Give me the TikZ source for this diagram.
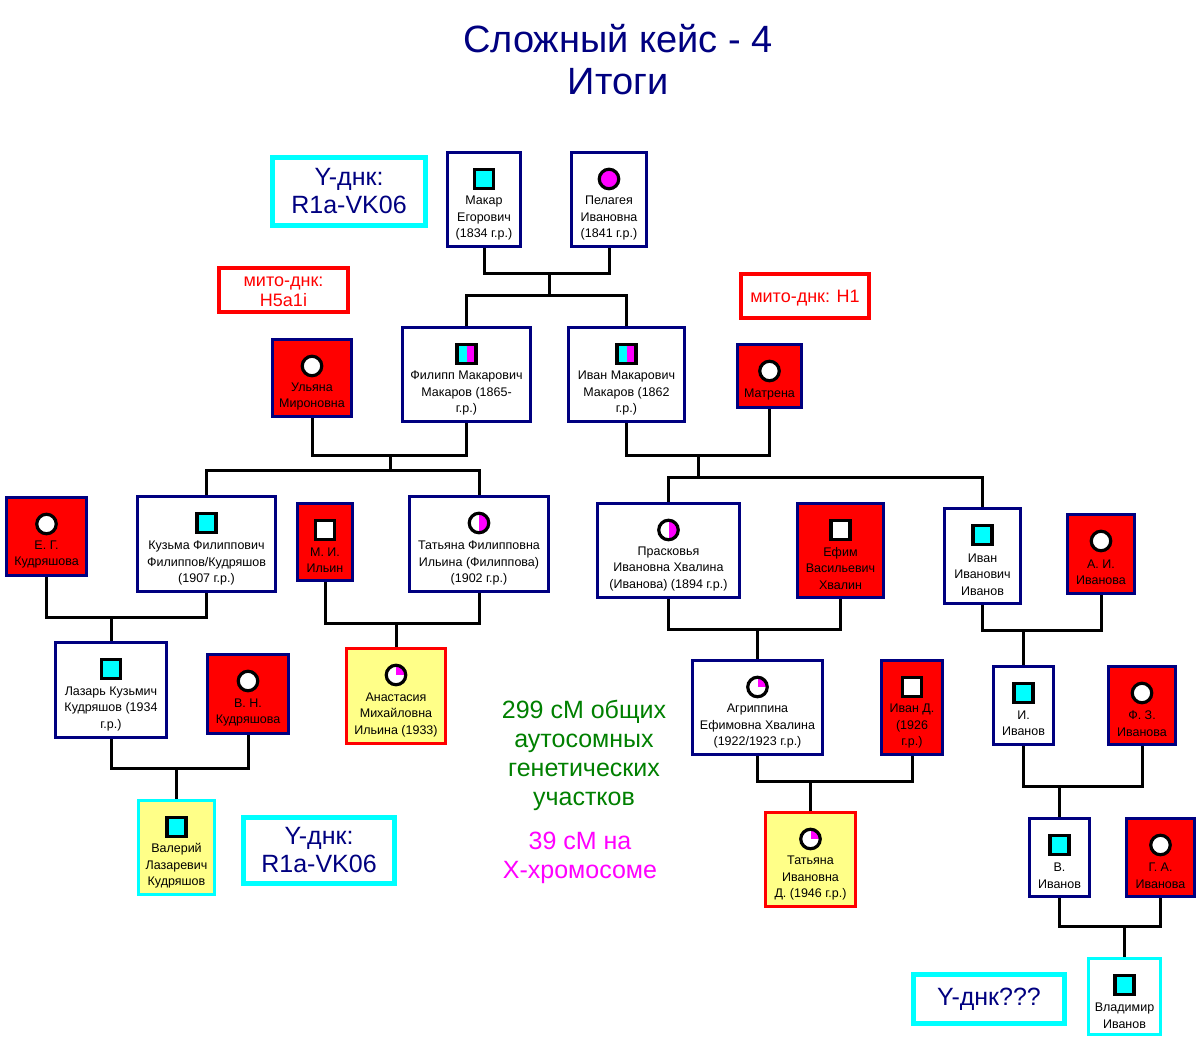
\documentclass[tikz,border=0pt]{standalone}
\usepackage{fontspec}
\setmainfont{Liberation Sans}
\usetikzlibrary{backgrounds}
\definecolor{navyb}{RGB}{0,0,128}
\definecolor{yel}{RGB}{255,255,136}
\definecolor{grn}{RGB}{0,128,0}
\definecolor{mag}{RGB}{255,0,255}
\definecolor{cyn}{RGB}{0,255,255}
\definecolor{rd}{RGB}{255,0,0}
\newcommand\person[9]{%
  \node[#6, minimum width={(#4-#2-3)*1pt}, minimum height={(#5-#3-3)*1pt}] (#1) at ({(#2+#4)/2},{(#3+#5)/2}) {};
  \node[#7] (#1s) at ({(#2+#4)/2},{#3+28}) {};
  \node[ptext] (#1t) at ({(#2+#4)/2},{#8+1.5}) {#9};
}
\begin{document}
\begin{tikzpicture}[x=1pt,y=-1pt,
  pbase/.style={rectangle, line width=3pt, inner sep=0pt},
  wperson/.style={pbase, draw=navyb, fill=white},
  rperson/.style={pbase, draw=navyb, fill=rd},
  yperson/.style={pbase, draw=rd, fill=yel},
  ycperson/.style={pbase, draw=cyn, fill=yel},
  cperson/.style={pbase, draw=cyn, fill=white},
  ptext/.style={font=\fontsize{12.5}{16.5}\selectfont, align=center, inner sep=0pt, text=black},
  sq/.style={rectangle, draw=black, line width=3.2pt, minimum size=19pt, inner sep=0pt},
  cyansq/.style={sq, fill=cyn},
  whitesq/.style={sq, fill=white},
  halfsq/.style={sq, fill=cyn, path picture={\fill[mag] (path picture bounding box.south) rectangle (path picture bounding box.north east);}},
  circ/.style={circle, draw=black, line width=3.2pt, minimum size=19.5pt, inner sep=0pt},
  whitecirc/.style={circ, fill=white},
  magcirc/.style={circ, fill=mag},
  halfcirc/.style={circ, fill=white, path picture={\fill[mag] (path picture bounding box.south) rectangle (path picture bounding box.north east);}},
  quartcirc/.style={circ, fill=white, path picture={\fill[mag] (path picture bounding box.center) rectangle (path picture bounding box.north east);}},
  lbl/.style={rectangle, draw=cyn, line width=5pt, fill=white, font=\fontsize{25}{28}\selectfont, text=navyb, align=center, inner sep=0pt},
  mito/.style={rectangle, draw=rd, line width=4pt, fill=white, font=\fontsize{18}{20}\selectfont, text=rd, align=center, inner sep=0pt},
  conn/.style={draw=black, line width=3pt}
]
\useasboundingbox (0,0) rectangle (1200,1042);

\node[font=\fontsize{38}{42}\selectfont, text=navyb, align=center, inner sep=0pt] (title) at (618,60) {Сложный кейс - 4\\Итоги};

\node[lbl, minimum width=153pt, minimum height=68pt] (ydnk1) at (349,191.5) {Y-днк:\\R1a-VK06};
\node[lbl, minimum width=151pt, minimum height=66pt] (ydnk2) at (319,850.5) {Y-днк:\\R1a-VK06};
\node[lbl, minimum width=151pt, minimum height=49pt] (ydnk3) at (989,999) {Y-днк???};
\node[mito, minimum width=129pt, minimum height=44pt] (mito1) at (283.5,290) {};
\node[font=\fontsize{18}{20}\selectfont, text=rd, align=center, inner sep=0pt] (mito1t) at (283.5,292) {мито-днк:\\H5a1i};
\node[mito, minimum width=128pt, minimum height=44pt] (mito2) at (805,296) {};
\node[font=\fontsize{18}{20}\selectfont, text=rd, inner sep=0pt] (mito2t) at (805,298) {мито-днк: H1};

\node[font=\fontsize{25}{29}\selectfont, text=grn, align=center, inner sep=0pt] (auto) at (584,755.5) {299 сМ общих\\аутосомных\\генетических\\участков};
\node[font=\fontsize{25}{29}\selectfont, text=mag, align=center, inner sep=0pt] (xchr) at (580,857.5) {39 сМ на\\Х-хромосоме};

\person{makar}{446}{151}{522}{248}{wperson}{cyansq}{216.5}{Макар\\Егорович\\(1834 г.р.)}
\person{pelageya}{570}{151}{648}{248}{wperson}{magcirc}{216.5}{Пелагея\\Ивановна\\(1841 г.р.)}
\person{ulyana}{271}{338}{353}{418}{rperson}{whitecirc}{395}{Ульяна\\Мироновна}
\person{filipp}{401}{326}{532}{423}{wperson}{halfsq}{391.5}{Филипп Макарович\\Макаров (1865-\\г.р.)}
\person{ivanm}{567}{326}{686}{423}{wperson}{halfsq}{391.5}{Иван Макарович\\Макаров (1862\\г.р.)}
\person{matrena}{736}{343}{803}{409}{rperson}{whitecirc}{393}{Матрена}
\person{eg}{5}{496}{88}{577}{rperson}{whitecirc}{553}{Е. Г.\\Кудряшова}
\person{kuzma}{136}{495}{277}{593}{wperson}{cyansq}{561.5}{Кузьма Филиппович\\Филиппов/Кудряшов\\(1907 г.р.)}
\person{mi}{296}{502}{354}{582}{rperson}{whitesq}{559}{М. И.\\Ильин}
\person{tatyanaf}{408}{495}{550}{593}{wperson}{halfcirc}{561.5}{Татьяна Филипповна\\Ильина (Филиппова)\\(1902 г.р.)}
\person{praskovya}{596}{502}{741}{599}{wperson}{halfcirc}{567}{Прасковья\\Ивановна Хвалина\\(Иванова) (1894 г.р.)}
\person{efim}{796}{502}{885}{599}{rperson}{whitesq}{567}{Ефим\\Васильевич\\Хвалин}
\person{ivaniv}{943}{507}{1022}{605}{wperson}{cyansq}{573}{Иван\\Иванович\\Иванов}
\person{ai}{1066}{513}{1136}{595}{rperson}{whitecirc}{571}{А. И.\\Иванова}
\person{lazar}{54}{641}{168}{739}{wperson}{cyansq}{707}{Лазарь Кузьмич\\Кудряшов (1934\\г.р.)}
\person{vn}{206}{653}{290}{735}{rperson}{whitecirc}{711}{В. Н.\\Кудряшова}
\person{anastasia}{345}{647}{447}{745}{yperson}{quartcirc}{713}{Анастасия\\Михайловна\\Ильина (1933)}
\person{agrippina}{691}{659}{824}{756}{wperson}{quartcirc}{724.5}{Агриппина\\Ефимовна Хвалина\\(1922/1923 г.р.)}
\person{ivand}{880}{659}{944}{756}{rperson}{whitesq}{724.5}{Иван Д.\\(1926\\г.р.)}
\person{iiv}{992}{665}{1055}{746}{wperson}{cyansq}{722}{И.\\Иванов}
\person{fz}{1107}{665}{1177}{746}{rperson}{whitecirc}{722}{Ф. З.\\Иванова}
\person{valeriy}{137}{799}{216}{896}{ycperson}{cyansq}{864.5}{Валерий\\Лазаревич\\Кудряшов}
\person{tatyanai}{764}{811}{857}{908}{yperson}{quartcirc}{876.5}{Татьяна\\Ивановна\\Д. (1946 г.р.)}
\person{viv}{1028}{817}{1091}{898}{wperson}{cyansq}{874}{В.\\Иванов}
\person{ga}{1125}{817}{1196}{898}{rperson}{whitecirc}{874}{Г. А.\\Иванова}
\person{vladimir}{1087}{957}{1162}{1036}{cperson}{cyansq}{1014}{Владимир\\Иванов}

\begin{pgfonlayer}{background}
\fill[white] (0,0) rectangle (1200,1042);
\coordinate (b1) at (549,273);
\coordinate (s1) at (549,295);
\draw[conn] (makar.south) |- (b1) -| (pelageya.south);
\draw[conn] (b1) -- (s1);
\draw[conn] (filipp.north) |- (s1) -| (ivanm.north);

\coordinate (b2) at (390,455);
\coordinate (s2) at (390,470);
\draw[conn] (ulyana.south) |- (b2) -| (filipp.south);
\draw[conn] (b2) -- (s2);
\draw[conn] (kuzma.north) |- (s2) -| (tatyanaf.north);

\coordinate (b3) at (698,455);
\coordinate (s3) at (698,477);
\draw[conn] (ivanm.south) |- (b3) -| (matrena.south);
\draw[conn] (b3) -- (s3);
\draw[conn] (praskovya.north) |- (s3) -| (ivaniv.north);

\coordinate (b4) at (lazar.north |- 0,617);
\draw[conn] (eg.south) |- (b4) -| (kuzma.south);
\draw[conn] (b4) -- (lazar.north);
\coordinate (b5) at (anastasia.north |- 0,623);
\draw[conn] (mi.south) |- (b5) -| (tatyanaf.south);
\draw[conn] (b5) -- (anastasia.north);
\coordinate (b6) at (agrippina.north |- 0,629);
\draw[conn] (praskovya.south) |- (b6) -| (efim.south);
\draw[conn] (b6) -- (agrippina.north);
\coordinate (b7) at (iiv.north |- 0,630);
\draw[conn] (ivaniv.south) |- (b7) -| (ai.south);
\draw[conn] (b7) -- (iiv.north);
\coordinate (b8) at (valeriy.north |- 0,768);
\draw[conn] (lazar.south) |- (b8) -| (vn.south);
\draw[conn] (b8) -- (valeriy.north);
\coordinate (b9) at (tatyanai.north |- 0,781);
\draw[conn] (agrippina.south) |- (b9) -| (ivand.south);
\draw[conn] (b9) -- (tatyanai.north);
\coordinate (b10) at (viv.north |- 0,786);
\draw[conn] (iiv.south) |- (b10) -| (fz.south);
\draw[conn] (b10) -- (viv.north);
\coordinate (b11) at (vladimir.north |- 0,926);
\draw[conn] (viv.south) |- (b11) -| (ga.south);
\draw[conn] (b11) -- (vladimir.north);
\end{pgfonlayer}
\end{tikzpicture}
\end{document}
